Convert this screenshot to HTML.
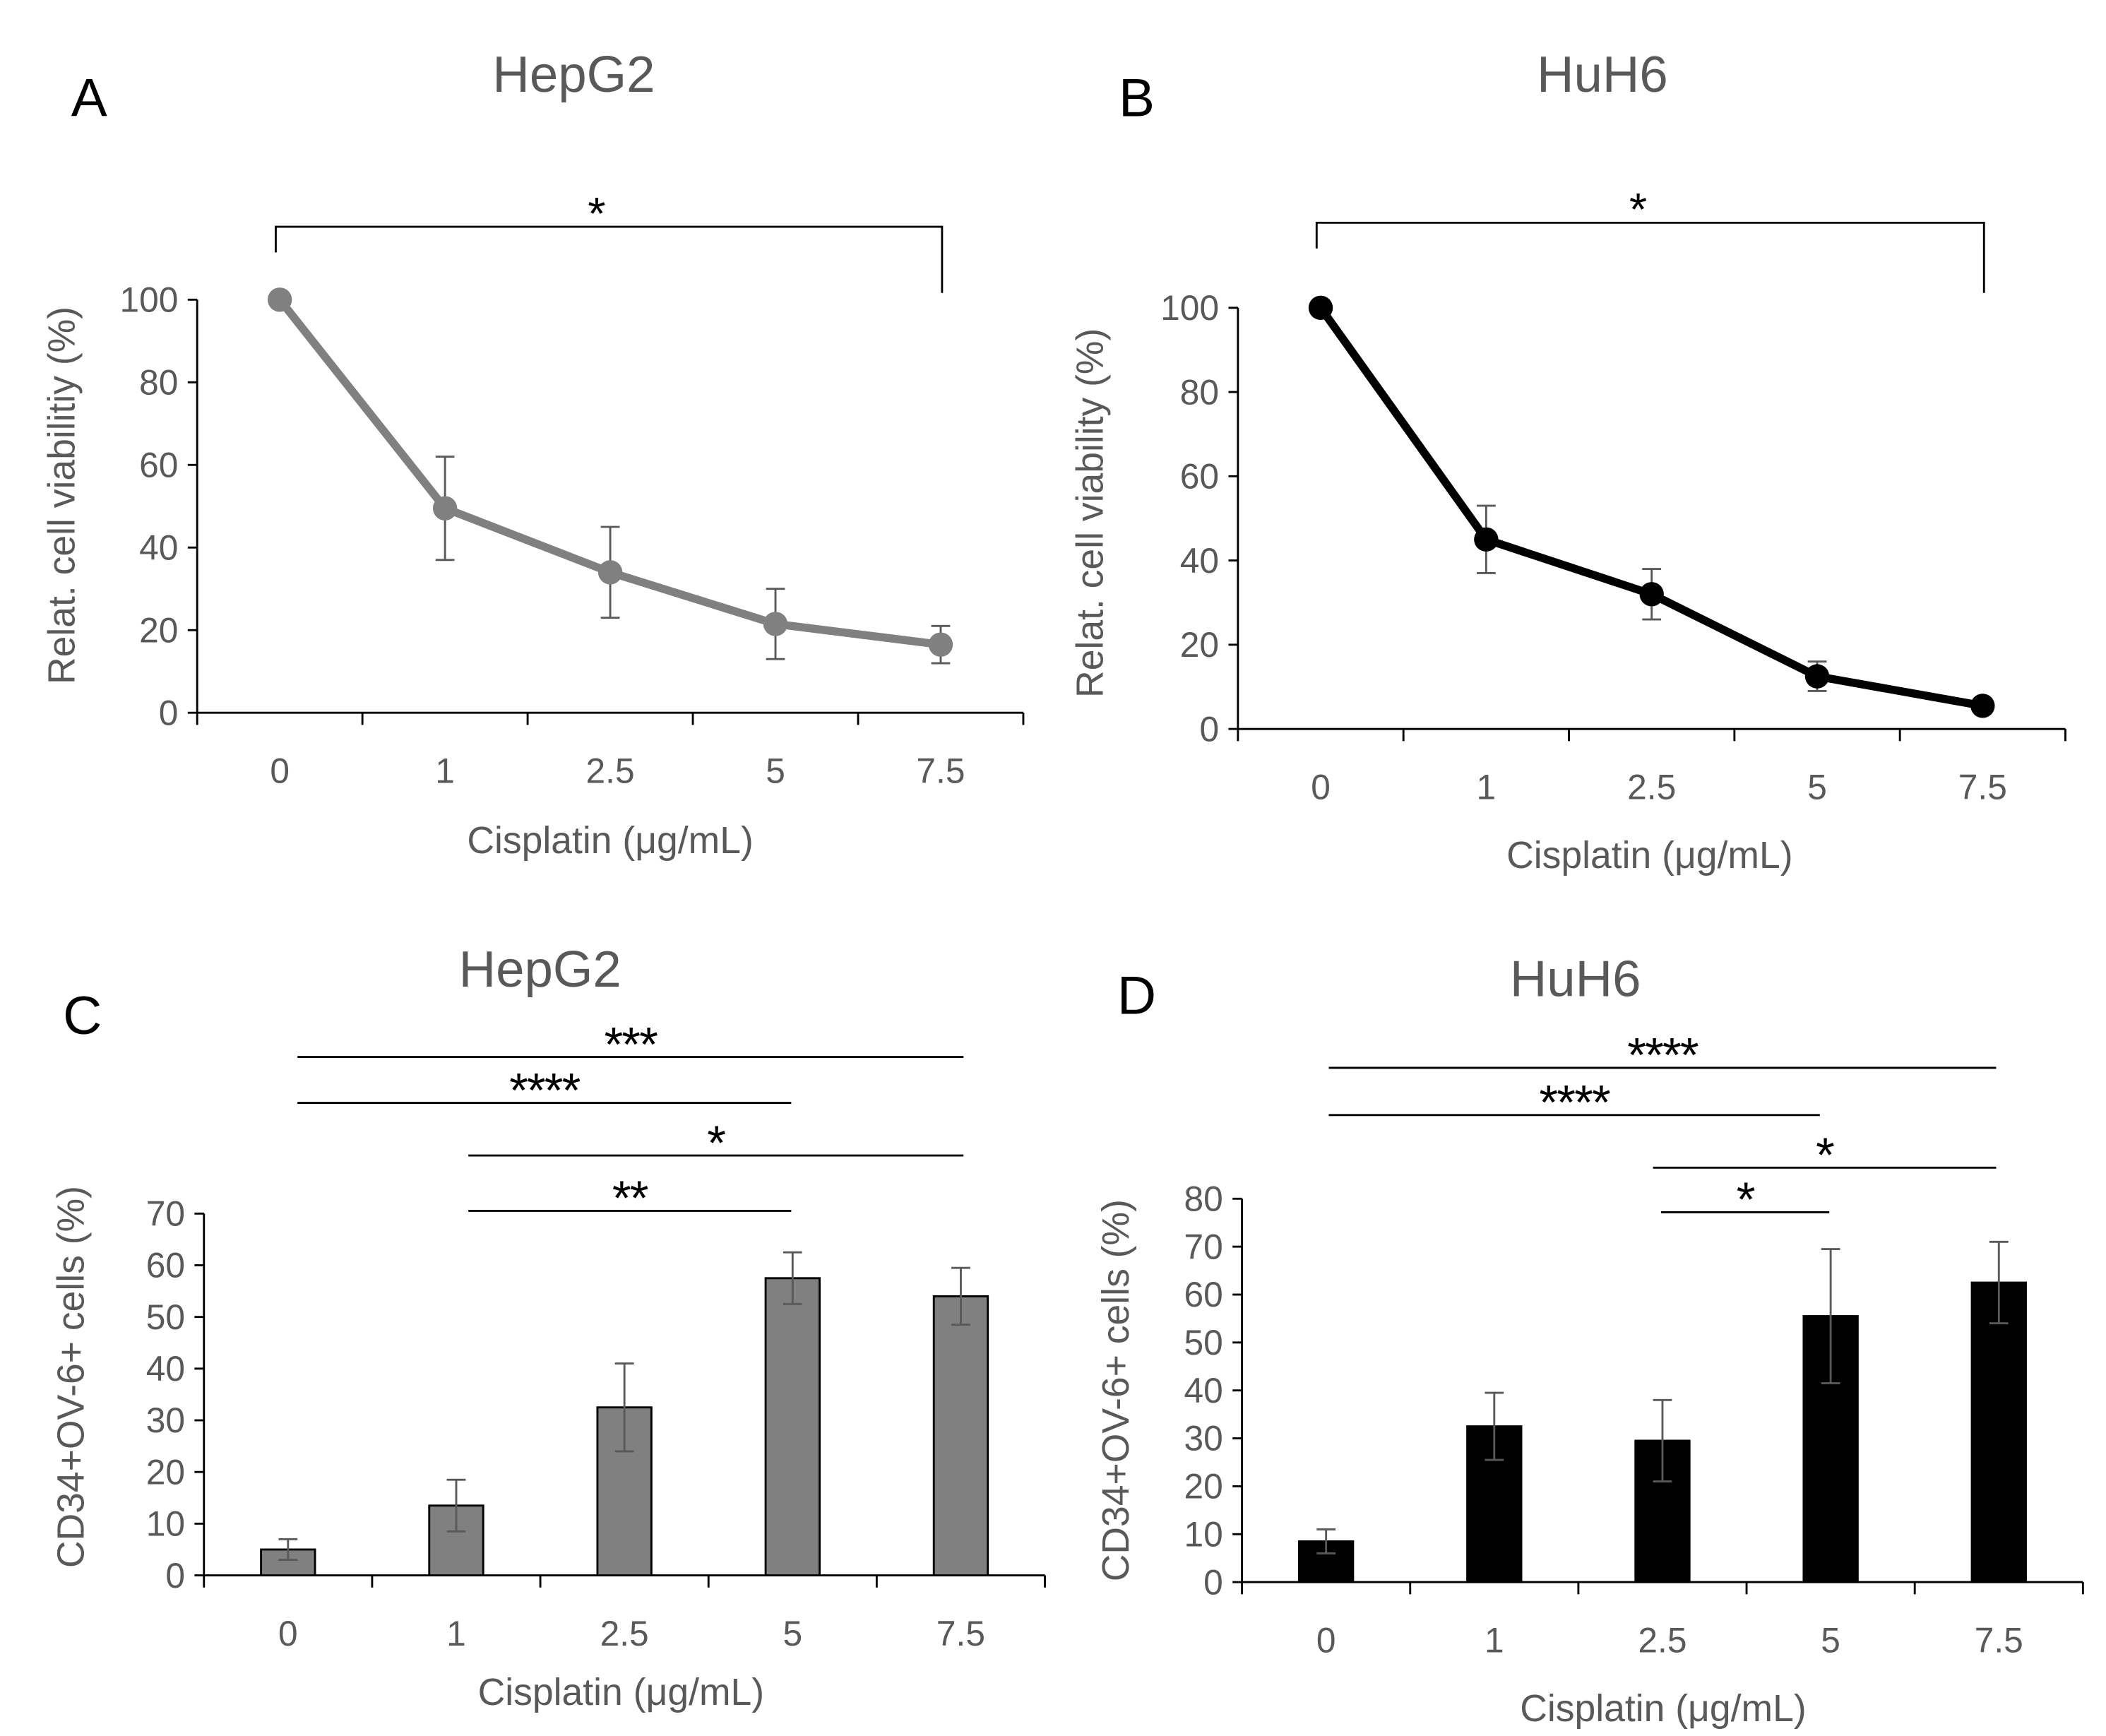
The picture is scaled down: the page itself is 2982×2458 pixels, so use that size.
<!DOCTYPE html>
<html><head><meta charset="utf-8"><style>
html,body{margin:0;padding:0;background:#fff;}
svg{display:block;font-family:"Liberation Sans",sans-serif;}
</style></head><body>
<svg id="fig" width="2982" height="2458" viewBox="0 0 1560 1286" xmlns="http://www.w3.org/2000/svg"></svg>
<script>
const cats = ["0","1","2.5","5","7.5"];
const viabA = [100,49.5,34,21.5,16.5];
const errA = [0,12.5,11,8.5,4.5];
const viabB = [100,45,32,12.5,5.5];
const errB = [0,8,6,3.5,0];
const cdC = [5,13.5,32.5,57.5,54];
const errC = [2,5,8.5,5,5.5];
const cdD = [8.5,32.5,29.5,55.5,62.5];
const errD = [2.5,7,8.5,14,8.5];
const ticksA = [0,20,40,60,80,100];
const ticksC = [0,10,20,30,40,50,60,70];
const ticksD = [0,10,20,30,40,50,60,70,80];
const sigC = [[0,4,"***"],[0,3,"****"],[1,4,"*"],[1,3,"**"]];
const sigD = [[0,4,"****"],[0,3,"****"],[2,4,"*"],[2,3,"*"]];

const svg=document.getElementById('fig');
const NS="http://www.w3.org/2000/svg";
function el(tag,attrs,parent,text){const e=document.createElementNS(NS,tag);for(const k in attrs)e.setAttribute(k,attrs[k]);if(text!==undefined)e.textContent=text;(parent||svg).appendChild(e);return e;}
const GRAY="#595959";

function panel(o){
  const g=el('g',{});
  
  
  const yS=v=>o.y0-(v/o.ymax)*(o.y0-o.ytop);
  const step=(o.xEnd-o.x0)/cats.length;
  const xS=i=>o.x0+step*(i+0.5);
  let t=el('text',{x:o.tx,y:o.ty,'font-size':38,fill:GRAY,'text-anchor':'middle'},g,o.title);
  
  t=el('text',{x:o.lx,y:o.ly,'font-size':40,fill:'#000','text-anchor':'middle'},g,o.letter);
  
  let a=el('line',{x1:o.x0,y1:o.ytop,x2:o.x0,y2:o.y0,stroke:'#000','stroke-width':1.5},g);
  
  a=el('line',{x1:o.x0,y1:o.y0,x2:o.xEnd,y2:o.y0,stroke:'#000','stroke-width':1.5},g);
  
  o.ticks.forEach(v=>{
    el('line',{x1:o.x0-7,y1:yS(v),x2:o.x0,y2:yS(v),stroke:'#000','stroke-width':1.5},g);
    const tl=el('text',{x:o.x0-14,y:yS(v)+9,'font-size':26,fill:GRAY,'text-anchor':'end'},g,String(v));
    
  });
  for(let i=0;i<=cats.length;i++){el('line',{x1:o.x0+step*i,y1:o.y0,x2:o.x0+step*i,y2:o.y0+9,stroke:'#000','stroke-width':1.5},g);}
  cats.forEach((c,i)=>{
    const tl=el('text',{x:xS(i),y:o.y0+52,'font-size':26,fill:GRAY,'text-anchor':'middle'},g,c);
    
  });
  t=el('text',{x:o.xlx,y:o.xly,'font-size':28,fill:GRAY,'text-anchor':'middle'},g,o.xlabel);
  
  t=el('text',{x:0,y:0,'font-size':28,fill:GRAY,'text-anchor':'middle',transform:`translate(${o.ylx},${o.yly}) rotate(-90)`},g,o.ylabel);
  
  const drawErr=(i,v,e)=>{if(!e)return;
    const x=xS(i);
    el('line',{x1:x,y1:yS(v-e),x2:x,y2:yS(v+e),stroke:GRAY,'stroke-width':1.5},g);
    el('line',{x1:x-7,y1:yS(v+e),x2:x+7,y2:yS(v+e),stroke:GRAY,'stroke-width':1.5},g);
    el('line',{x1:x-7,y1:yS(v-e),x2:x+7,y2:yS(v-e),stroke:GRAY,'stroke-width':1.5},g);};
  if(o.type==='line'){
    const pts=o.vals.map((v,i)=>xS(i)+','+yS(v)).join(' ');
    const pl=el('polyline',{points:pts,fill:'none',stroke:o.color,'stroke-width':6,'stroke-linejoin':'round'},g);
    
    o.vals.forEach((v,i)=>drawErr(i,v,o.errs[i]));
    o.vals.forEach((v,i)=>{
      const c=el('circle',{cx:xS(i),cy:yS(v),r:9,fill:o.color},g);
      
    });
  } else {
    o.vals.forEach((v,i)=>{
      const r=el('rect',{x:xS(i)-20,y:yS(v),width:40,height:o.y0-yS(v),fill:o.color,stroke:'#000','stroke-width':1.5},g);
      
    });
    o.vals.forEach((v,i)=>drawErr(i,v,o.errs[i]));
  }
  if(o.bracket){
    const b=o.bracket;
    const p=el('polyline',{points:`${xS(0)-3},${b.yl} ${xS(0)-3},${b.y} ${xS(4)+1},${b.y} ${xS(4)+1},${b.yr}`,fill:'none',stroke:'#000','stroke-width':1.5},g);
    
    const s=el('text',{x:(xS(0)+xS(4))/2 - 10,y:b.y+2,'font-size':34,'text-anchor':'middle',fill:'#000'},g,'*');
    
  }
  if(o.sig){
    o.sig.forEach((s,k)=>{
      const y=o.sigY[k];
      const x1=xS(s[0])+o.sigOff[k][0],x2=xS(s[1])+o.sigOff[k][1];
      const l=el('line',{x1:x1,y1:y,x2:x2,y2:y,stroke:'#000','stroke-width':1.5},g);
      
      const st=el('text',{x:(x1+x2)/2,y:y+3,'font-size':36,'text-anchor':'middle',fill:'#000','letter-spacing':'-1'},g,s[2]);
      
    });
  }
}
panel({name:'panel-a-hepg2-viability',type:'line',color:'#808080',vals:viabA,errs:errA,ticks:ticksA,ymax:100,
 x0:146,xEnd:758,y0:528,ytop:222,title:'HepG2',tx:425,ty:68,letter:'A',lx:66,ly:86,
 xlabel:'Cisplatin (μg/mL)',xlx:452,xly:632,ylabel:'Relat. cell viabilitiy (%)',ylx:55,yly:367,
 bracket:{y:168,yl:187,yr:217}});
panel({name:'panel-b-huh6-viability',type:'line',color:'#000',vals:viabB,errs:errB,ticks:ticksA,ymax:100,
 x0:917,xEnd:1530,y0:540,ytop:228,title:'HuH6',tx:1187,ty:68,letter:'B',lx:842,ly:86,
 xlabel:'Cisplatin (μg/mL)',xlx:1222,xly:643,ylabel:'Relat. cell viability (%)',ylx:817,yly:380,
 bracket:{y:165,yl:184,yr:217}});
panel({name:'panel-c-hepg2-cd34',type:'bar',color:'#808080',vals:cdC,errs:errC,ticks:ticksC,ymax:70,
 x0:151,xEnd:774,y0:1167,ytop:899,title:'HepG2',tx:400,ty:731,letter:'C',lx:61,ly:766,
 xlabel:'Cisplatin (μg/mL)',xlx:460,xly:1263,ylabel:'CD34+OV-6+ cells (%)',ylx:62,yly:1020,
 sig:sigC,sigY:[783,817,856,897],sigOff:[[7,2],[7,-1],[9,2],[9,-1]]});
panel({name:'panel-d-huh6-cd34',type:'bar',color:'#000',vals:cdD,errs:errD,ticks:ticksD,ymax:80,
 x0:920,xEnd:1543,y0:1172,ytop:888,title:'HuH6',tx:1167,ty:738,letter:'D',lx:842,ly:751,
 xlabel:'Cisplatin  (μg/mL)',xlx:1232,xly:1275,ylabel:'CD34+OV-6+ cells (%)',ylx:836,yly:1030,
 sig:sigD,sigY:[791,826,865,898],sigOff:[[2,-2],[2,-8],[-7,-2],[-1,-1]]});
</script>
</body></html>
